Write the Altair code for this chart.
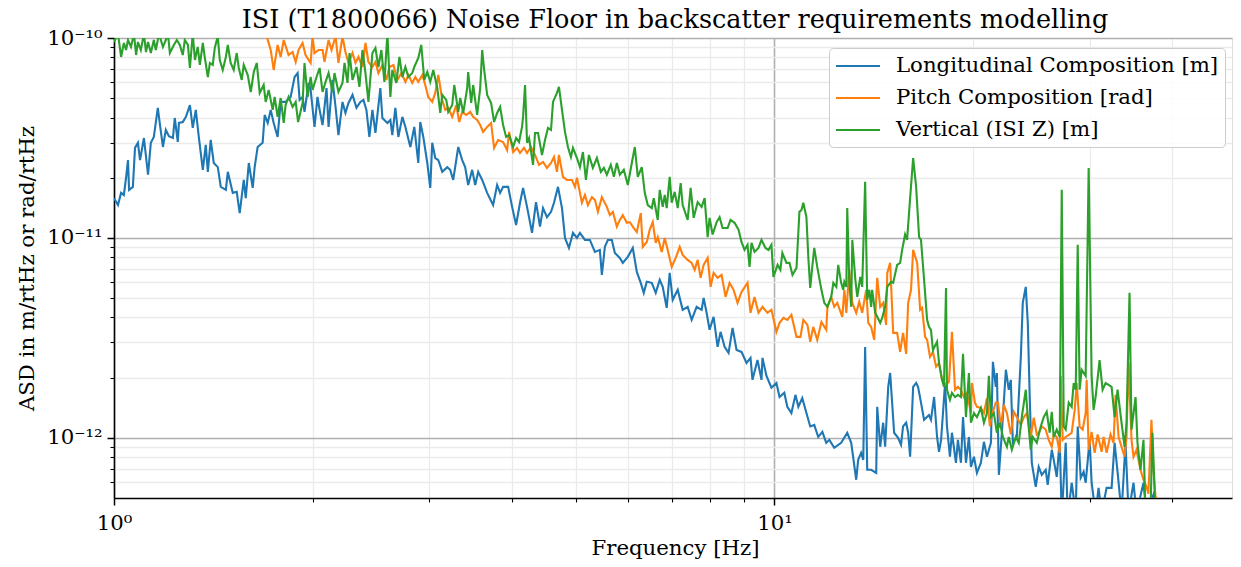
import altair as alt
import pandas as pd

FONT = "DejaVu Serif"
UNIT = 1e-12  # ASD arrays below are in units of 1e-12
LABEL_SIZE = 21.25
TITLE_SIZE = 25.5

title_text = "ISI (T1800066) Noise Floor in backscatter requirements modelling"
x_title = "Frequency [Hz]"
y_title = "ASD in m/rtHz or rad/rtHz"
series_names = ["Longitudinal Composition [m]", "Pitch Composition [rad]", "Vertical (ISI Z) [m]"]
series_colors = ["#1f77b4", "#ff7f0e", "#2ca02c"]

x_major = [1, 10]
x_major_labels = ["10⁰", "10¹"]
x_minor = [2, 3, 4, 5, 6, 7, 8, 9, 20, 30, 40]
y_major = [1e-12, 1e-11, 1e-10]
y_major_labels = ["10⁻¹²", "10⁻¹¹", "10⁻¹⁰"]
y_minor = [6e-13, 7e-13, 8e-13, 9e-13,
           2e-12, 3e-12, 4e-12, 5e-12, 6e-12, 7e-12, 8e-12, 9e-12,
           2e-11, 3e-11, 4e-11, 5e-11, 6e-11, 7e-11, 8e-11, 9e-11]
x_domain = [1, 49.3]
y_domain = [5e-13, 1e-10]

# ---- Longitudinal Composition [m]
freq_long = [
    1.000, 1.014, 1.025, 1.035, 1.043, 1.050, 1.054, 1.068, 1.076, 1.087,
    1.095, 1.110, 1.126, 1.137, 1.149, 1.165, 1.174, 1.186, 1.198, 1.211,
    1.228, 1.236, 1.249, 1.254, 1.271, 1.285, 1.303, 1.316, 1.330, 1.344,
    1.363, 1.377, 1.387, 1.401, 1.416, 1.436, 1.451, 1.477, 1.487, 1.513,
    1.534, 1.550, 1.572, 1.583, 1.600, 1.622, 1.633, 1.650, 1.679, 1.691,
    1.709, 1.727, 1.745, 1.769, 1.788, 1.819, 1.851, 1.877, 1.897, 1.910,
    1.930, 1.943, 1.971, 1.985, 2.012, 2.033, 2.048, 2.069, 2.098, 2.113,
    2.142, 2.165, 2.187, 2.218, 2.241, 2.265, 2.297, 2.329, 2.361, 2.386,
    2.411, 2.436, 2.462, 2.488, 2.531, 2.549, 2.594, 2.621, 2.639, 2.667,
    2.695, 2.733, 2.762, 2.810, 2.849, 2.889, 2.909, 2.940, 2.981, 3.012,
    3.033, 3.065, 3.098, 3.141, 3.196, 3.229, 3.263, 3.321, 3.367, 3.402,
    3.438, 3.486, 3.523, 3.560, 3.610, 3.673, 3.750, 3.803, 3.843, 3.883,
    3.952, 4.007, 4.063, 4.119, 4.163, 4.221, 4.295, 4.355, 4.416, 4.463,
    4.525, 4.589, 4.637, 4.702, 4.768, 4.818, 4.885, 4.954, 5.023, 5.076,
    5.165, 5.255, 5.348, 5.441, 5.479, 5.537, 5.595, 5.673, 5.733, 5.833,
    5.894, 5.998, 6.103, 6.189, 6.275, 6.341, 6.408, 6.520, 6.611, 6.704,
    6.774, 6.869, 6.941, 7.014, 7.138, 7.262, 7.390, 7.493, 7.625, 7.758,
    7.813, 7.894, 7.977, 8.089, 8.203, 8.288, 8.405, 8.522, 8.642, 8.763,
    8.916, 9.073, 9.200, 9.264, 9.427, 9.559, 9.592, 9.727, 9.896, 10.07,
    10.18, 10.35, 10.46, 10.61, 10.76, 10.87, 11.02, 11.18, 11.33, 11.49,
    11.65, 11.82, 11.98, 12.11, 12.32, 12.62, 12.89, 13.07, 13.30, 13.39,
    13.53, 13.63, 13.72, 13.82, 14.01, 14.26, 14.31, 14.46, 14.61, 14.71,
    14.87, 14.97, 15.18, 15.39, 15.55, 15.66, 15.83, 15.94, 16.05, 16.22,
    16.39, 16.50, 16.67, 16.85, 17.14, 17.26, 17.45, 17.63, 17.75, 17.88,
    18.13, 18.25, 18.44, 18.57, 18.83, 18.96, 19.16, 19.30, 19.50, 19.70,
    19.84, 20.05, 20.26, 20.54, 20.76, 20.98, 21.27, 21.42, 21.64, 21.72,
    21.87, 22.10, 22.41, 22.64, 22.80, 22.96, 23.28, 23.61, 23.77, 24.02,
    24.19, 24.36, 24.53, 24.87, 25.13, 25.40, 25.75, 25.93, 26.30, 26.48,
    26.76, 27.04, 27.23, 27.61, 27.80, 28.19, 28.59, 28.79, 29.09, 29.39,
    29.60, 30.01, 30.22, 30.64, 30.96, 31.29, 31.84, 32.40, 32.74, 33.08,
    33.54, 34.01, 34.37, 34.97, 35.34, 36.21, 36.59, 37.49, 38.15,
]
asd_long = [
    15.8, 14.6, 16.8, 16.4, 20.0, 24.5, 17.4, 18.0, 28.2, 29.9,
    24.5, 31.6, 20.7, 29.9, 32.0, 44.7, 36.7, 28.5, 34.7, 32.3,
    31.6, 39.8, 30.2, 37.6, 38.0, 40.3, 46.2, 35.5, 43.7, 32.0,
    21.9, 29.2, 21.4, 30.9, 23.7, 22.6, 18.0, 17.4, 21.4, 16.8,
    17.0, 13.3, 19.5, 15.8, 23.7, 17.8, 22.6, 28.5, 29.9, 41.2,
    37.6, 43.7, 37.6, 32.0, 47.9, 47.9, 50.7, 63.8, 66.8, 49.0,
    50.7, 42.7, 59.6, 55.0, 35.9, 50.7, 43.7, 36.7, 56.2, 35.9,
    61.7, 45.2, 32.7, 47.9, 42.2, 47.3, 51.9, 44.7, 47.9, 49.0,
    43.7, 32.0, 43.7, 33.5, 56.2, 39.8, 37.6, 38.9, 32.7, 44.7,
    32.0, 40.3, 35.9, 28.5, 35.9, 23.7, 38.0, 32.0, 23.7, 17.8,
    29.9, 25.1, 24.5, 21.4, 22.6, 21.9, 19.5, 28.5, 24.5, 22.6,
    18.4, 21.9, 18.4, 21.4, 19.5, 16.8, 14.6, 18.4, 16.8, 18.0,
    18.0, 14.3, 11.6, 15.0, 17.8, 14.3, 10.6, 15.1, 11.4, 14.1,
    12.7, 13.5, 15.0, 18.0, 14.1, 10.0, 8.91, 10.6, 10.0, 10.6,
    9.77, 9.77, 8.51, 8.71, 6.53, 9.02, 9.77, 9.77, 8.41, 7.94,
    7.50, 8.04, 8.91, 6.76, 5.96, 5.31, 6.03, 5.96, 5.31, 6.17,
    5.69, 4.47, 6.68, 4.90, 5.50, 4.37, 4.52, 3.89, 4.52, 4.37,
    5.01, 4.22, 3.47, 4.03, 2.85, 3.39, 2.85, 2.66, 3.55, 2.75,
    2.69, 2.37, 2.51, 1.95, 2.45, 1.95, 2.51, 2.04, 1.78, 1.88,
    1.60, 1.68, 1.43, 1.33, 1.64, 1.43, 1.58, 1.33, 1.14, 1.16,
    1.01, 1.07, 0.944, 0.977, 0.891, 0.944, 1.06, 0.944, 0.617, 0.776,
    0.841, 0.776, 2.85, 0.692, 0.692, 0.668, 1.43, 0.902, 1.19, 0.902,
    1.80, 2.11, 1.06, 1.00, 0.923, 1.14, 1.19, 1.06, 0.804, 1.80,
    1.88, 1.80, 1.50, 1.23, 1.30, 1.23, 1.60, 1.01, 0.851, 0.977,
    1.88, 1.14, 0.804, 1.06, 0.750, 0.977, 0.750, 1.27, 0.750, 1.01,
    0.716, 0.804, 0.668, 0.750, 0.955, 0.804, 0.944, 2.40, 1.80, 2.11,
    0.653, 1.06, 2.19, 1.74, 1.95, 0.944, 1.01, 2.54, 4.73, 5.69,
    3.76, 1.55, 0.750, 0.569, 0.716, 0.653, 0.692, 0.582, 0.871, 0.776,
    0.638, 0.977, 0.40, 0.944, 0.40, 0.596, 0.42, 1.14, 0.631, 0.676,
    0.596, 0.977, 0.596, 0.42, 0.562, 0.42, 0.562, 0.562, 0.944, 0.676,
    0.42, 0.944, 0.42, 0.596, 0.42, 0.596, 0.42, 0.52, 0.38,
]

# ---- Pitch Composition [rad]
freq_pitch = [
    1.685, 1.703, 1.727, 1.745, 1.769, 1.788, 1.807, 1.838, 1.864, 1.884,
    1.903, 1.930, 1.950, 1.985, 1.998, 2.012, 2.041, 2.069, 2.083, 2.113,
    2.135, 2.165, 2.187, 2.218, 2.241, 2.265, 2.297, 2.321, 2.345, 2.378,
    2.403, 2.428, 2.462, 2.488, 2.514, 2.549, 2.585, 2.612, 2.649, 2.686,
    2.723, 2.762, 2.791, 2.829, 2.859, 2.889, 2.930, 2.960, 2.991, 3.033,
    3.065, 3.098, 3.141, 3.174, 3.207, 3.252, 3.298, 3.332, 3.367, 3.414,
    3.462, 3.498, 3.547, 3.585, 3.622, 3.673, 3.724, 3.763, 3.816, 3.883,
    3.938, 3.965, 4.021, 4.077, 4.119, 4.177, 4.221, 4.280, 4.340, 4.401,
    4.463, 4.525, 4.589, 4.637, 4.685, 4.718, 4.784, 4.851, 4.936, 4.988,
    5.023, 5.111, 5.165, 5.219, 5.292, 5.348, 5.404, 5.479, 5.575, 5.634,
    5.693, 5.773, 5.833, 5.894, 5.977, 6.040, 6.124, 6.189, 6.275, 6.319,
    6.408, 6.475, 6.543, 6.611, 6.658, 6.751, 6.822, 6.893, 6.990, 7.088,
    7.188, 7.262, 7.390, 7.493, 7.572, 7.652, 7.731, 7.813, 7.923, 8.005,
    8.089, 8.203, 8.317, 8.434, 8.552, 8.672, 8.794, 8.916, 9.105, 9.200,
    9.329, 9.459, 9.592, 9.761, 9.896, 10.07, 10.18, 10.32, 10.46, 10.61,
    10.80, 10.95, 11.06, 11.22, 11.33, 11.45, 11.61, 11.78, 11.98, 12.03,
    12.19, 12.32, 12.45, 12.67, 12.76, 12.85, 12.98, 13.12, 13.30, 13.44,
    13.58, 13.77, 13.87, 14.01, 14.16, 14.31, 14.46, 14.61, 14.76, 14.82,
    14.97, 15.13, 15.34, 15.50, 15.66, 15.83, 15.94, 16.10, 16.22, 16.45,
    16.62, 16.73, 16.91, 17.03, 17.20, 17.38, 17.57, 17.75, 17.94, 18.19,
    18.38, 18.57, 18.77, 18.96, 19.16, 19.36, 19.57, 19.84, 19.91, 20.12,
    20.26, 20.54, 20.76, 20.98, 21.20, 21.34, 21.64, 21.80, 22.02, 22.25,
    22.49, 22.80, 23.04, 23.28, 23.61, 23.86, 24.11, 24.44, 24.70, 24.96,
    25.13, 25.40, 25.75, 26.02, 26.30, 26.48, 26.76, 27.04, 27.13, 27.32,
    27.61, 27.99, 28.19, 28.49, 28.69, 28.98, 29.29, 29.60, 29.70, 29.91,
    30.22, 30.54, 30.86, 31.29, 31.51, 31.84, 32.28, 32.62, 32.85, 33.20,
    33.54, 33.90, 34.13, 34.37, 34.73, 34.97, 35.34, 35.83, 36.21, 36.59,
    36.84, 37.23, 37.49, 37.75, 38.28,
]
asd_pitch = [
    110, 102, 87.1, 69.2, 92.3, 80.4, 97.7, 82.2, 85.1, 75.9,
    87.1, 94.4, 82.2, 75.0, 102, 84.1, 87.1, 87.1, 75.9, 97.7,
    87.1, 102, 75.0, 102, 85.1, 75.0, 84.1, 75.0, 80.4, 71.6,
    94.4, 75.9, 71.6, 75.9, 66.8, 73.3, 61.7, 71.6, 73.3, 61.7,
    66.8, 60.3, 65.3, 59.6, 63.8, 60.3, 65.3, 58.2, 50.7, 47.9,
    53.1, 65.3, 49.0, 43.7, 44.7, 40.3, 46.2, 38.0, 42.7, 41.2,
    42.7, 40.3, 38.9, 36.7, 33.9, 35.9, 37.6, 28.2, 30.9, 30.2,
    27.5, 33.9, 26.9, 28.2, 26.6, 28.2, 26.6, 28.5, 26.0, 23.2,
    24.0, 22.4, 23.7, 25.4, 21.4, 26.0, 20.2, 19.5, 19.5, 18.0,
    20.0, 15.0, 16.4, 14.6, 16.0, 15.5, 13.5, 16.0, 14.3, 13.0,
    13.5, 11.4, 12.3, 13.0, 11.9, 12.0, 11.2, 10.7, 13.3, 9.02,
    9.55, 11.0, 12.0, 9.44, 10.1, 8.51, 10.0, 8.71, 7.16, 7.94,
    9.02, 8.22, 7.76, 7.50, 6.92, 7.76, 6.31, 7.33, 7.94, 5.69,
    6.68, 6.31, 6.53, 5.07, 5.96, 5.50, 4.73, 5.37, 5.96, 4.22,
    5.07, 4.22, 4.52, 4.22, 4.37, 3.39, 3.76, 3.98, 3.89, 4.12,
    3.20, 3.20, 3.89, 3.67, 3.02, 3.59, 3.09, 3.80, 3.47, 4.52,
    5.07, 4.52, 4.73, 4.03, 5.50, 4.22, 6.92, 4.73, 4.22, 4.79,
    4.22, 5.50, 3.76, 3.59, 3.09, 6.31, 4.52, 4.73, 3.67, 6.68,
    7.50, 3.35, 3.35, 2.69, 3.35, 2.63, 4.73, 5.50, 8.71, 7.50,
    4.37, 4.47, 3.20, 3.09, 2.54, 2.69, 2.27, 2.37, 1.95, 1.84,
    1.91, 3.39, 1.74, 1.80, 1.74, 1.60, 1.68, 1.33, 1.88, 1.50,
    1.43, 1.41, 1.33, 1.58, 1.14, 1.30, 1.50, 1.50, 1.14, 1.46,
    1.33, 1.04, 1.35, 1.27, 1.16, 1.27, 1.33, 1.01, 1.26, 1.04,
    1.06, 1.14, 1.10, 0.977, 0.902, 1.04, 1.01, 0.841, 2.04, 0.977,
    1.01, 1.04, 1.06, 1.38, 1.88, 1.14, 1.10, 1.33, 1.95, 0.871,
    1.07, 0.841, 1.04, 0.851, 1.01, 0.841, 1.04, 0.944, 1.64, 1.01,
    0.902, 0.804, 1.01, 2.37, 0.977, 0.804, 0.871, 0.692, 0.617, 0.569,
    0.525, 1.23, 0.692, 0.510, 0.40,
]

# ---- Vertical (ISI Z) [m]
freq_vert = [
    1.000, 1.014, 1.025, 1.035, 1.043, 1.050, 1.061, 1.072, 1.080, 1.087,
    1.098, 1.110, 1.118, 1.126, 1.137, 1.149, 1.157, 1.170, 1.186, 1.198,
    1.207, 1.215, 1.232, 1.245, 1.258, 1.271, 1.280, 1.294, 1.303, 1.316,
    1.326, 1.339, 1.349, 1.363, 1.372, 1.387, 1.397, 1.411, 1.421, 1.436,
    1.446, 1.461, 1.477, 1.487, 1.502, 1.518, 1.534, 1.545, 1.561, 1.572,
    1.594, 1.611, 1.628, 1.645, 1.662, 1.685, 1.697, 1.715, 1.739, 1.751,
    1.769, 1.788, 1.807, 1.819, 1.838, 1.864, 1.884, 1.900, 1.930, 1.943,
    1.964, 1.985, 1.998, 2.026, 2.048, 2.069, 2.091, 2.113, 2.142, 2.157,
    2.187, 2.218, 2.234, 2.257, 2.273, 2.297, 2.329, 2.353, 2.378, 2.403,
    2.428, 2.462, 2.488, 2.514, 2.540, 2.567, 2.594, 2.621, 2.639, 2.676,
    2.705, 2.733, 2.762, 2.791, 2.829, 2.849, 2.889, 2.919, 2.950, 2.981,
    3.012, 3.044, 3.087, 3.119, 3.141, 3.185, 3.207, 3.252, 3.275, 3.321,
    3.344, 3.379, 3.426, 3.438, 3.474, 3.498, 3.547, 3.585, 3.610, 3.635,
    3.673, 3.724, 3.763, 3.803, 3.843, 3.883, 3.924, 3.965, 4.021, 4.063,
    4.105, 4.148, 4.163, 4.192, 4.221, 4.251, 4.310, 4.340, 4.386, 4.447,
    4.494, 4.541, 4.589, 4.621, 4.685, 4.718, 4.768, 4.818, 4.868, 4.919,
    4.954, 5.023, 5.076, 5.129, 5.183, 5.237, 5.310, 5.385, 5.460, 5.518,
    5.575, 5.653, 5.713, 5.773, 5.833, 5.915, 5.998, 6.082, 6.146, 6.210,
    6.297, 6.363, 6.430, 6.520, 6.566, 6.658, 6.704, 6.774, 6.822, 6.869,
    6.941, 6.990, 7.063, 7.138, 7.212, 7.262, 7.390, 7.467, 7.546, 7.652,
    7.758, 7.840, 7.923, 7.977, 8.061, 8.175, 8.260, 8.346, 8.494, 8.581,
    8.702, 8.824, 8.916, 9.010, 9.105, 9.168, 9.232, 9.329, 9.459, 9.559,
    9.693, 9.795, 9.896, 9.965, 10.11, 10.21, 10.28, 10.43, 10.54, 10.65,
    10.80, 10.91, 10.99, 11.06, 11.18, 11.26, 11.33, 11.41, 11.49, 11.61,
    11.78, 11.90, 12.03, 12.19, 12.28, 12.41, 12.49, 12.62, 12.71, 12.76,
    12.85, 12.89, 12.98, 13.07, 13.12, 13.26, 13.35, 13.49, 13.58, 13.72,
    13.82, 13.92, 14.01, 14.06, 14.21, 14.31, 14.46, 14.56, 14.71, 14.82,
    15.02, 15.13, 15.34, 15.50, 15.61, 15.77, 15.88, 16.05, 16.22, 16.39,
    16.56, 16.67, 16.85, 17.03, 17.14, 17.26, 17.38, 17.63, 17.75, 17.94,
    18.06, 18.19, 18.25, 18.44, 18.57, 18.77, 18.96, 19.16, 19.30, 19.50,
    19.70, 19.84, 20.05, 20.26, 20.54, 20.76, 20.98, 21.12, 21.27, 21.49,
    21.72, 21.95, 22.18, 22.49, 22.64, 22.88, 23.20, 23.44, 23.69, 24.02,
    24.19, 24.44, 24.61, 24.96, 25.31, 25.57, 25.84, 26.11, 26.30, 26.48,
    26.76, 27.04, 27.23, 27.42, 27.61, 27.90, 28.19, 28.39, 28.59, 28.79,
    28.98, 29.19, 29.60, 29.91, 30.22, 30.43, 30.64, 31.07, 31.40, 31.73,
    32.06, 32.40, 32.74, 33.08, 33.54, 33.90, 34.13, 34.49, 34.73, 35.22,
    35.46, 35.83, 36.21, 36.46, 37.10, 37.36, 37.75, 38.15,
]
asd_vert = [
    95.5, 105, 80.4, 94.4, 87.1, 97.7, 90.2, 105, 82.2, 95.5,
    87.1, 105, 85.1, 95.5, 84.1, 97.7, 87.1, 105, 90.2, 97.7,
    105, 84.1, 92.3, 97.7, 92.3, 82.2, 97.7, 92.3, 70.8, 105,
    77.6, 90.2, 73.3, 94.4, 80.4, 63.8, 75.0, 73.3, 89.1, 102,
    77.6, 69.2, 80.4, 92.3, 75.0, 69.2, 84.1, 70.8, 61.7, 73.3,
    65.3, 53.7, 67.6, 75.0, 53.1, 58.2, 47.9, 55.0, 43.7, 50.7,
    40.3, 50.1, 37.6, 46.2, 50.7, 45.2, 47.9, 38.0, 47.3, 75.0,
    50.7, 63.8, 55.0, 63.8, 70.8, 53.7, 60.3, 66.8, 53.7, 66.8,
    53.7, 59.6, 75.0, 59.6, 84.1, 61.7, 71.6, 56.9, 87.1, 66.8,
    47.9, 84.1, 89.1, 71.6, 87.1, 60.3, 105, 50.7, 69.2, 59.6,
    80.4, 63.8, 71.6, 63.8, 66.8, 71.6, 79.4, 92.3, 61.7, 67.6,
    60.3, 69.2, 56.2, 42.2, 51.9, 49.0, 42.7, 46.2, 58.2, 42.7,
    50.1, 42.2, 56.2, 67.6, 47.3, 58.2, 41.2, 56.2, 87.1, 69.2,
    51.9, 47.3, 38.0, 42.2, 45.2, 36.7, 32.0, 32.7, 28.5, 31.6,
    30.2, 35.9, 40.3, 58.2, 29.9, 31.6, 23.2, 33.5, 33.5, 26.0,
    30.9, 35.5, 34.7, 47.9, 53.1, 56.9, 43.7, 33.9, 28.5, 25.4,
    28.2, 25.1, 22.6, 26.9, 19.5, 26.0, 22.4, 25.1, 21.4, 22.4,
    20.7, 23.2, 20.2, 23.7, 20.7, 21.9, 18.4, 23.7, 28.5, 20.2,
    22.6, 16.8, 14.6, 14.1, 15.8, 12.3, 17.4, 14.3, 16.4, 14.1,
    20.2, 15.0, 17.0, 14.1, 18.8, 14.6, 12.3, 17.8, 12.6, 15.1,
    14.3, 15.8, 10.1, 12.6, 10.4, 12.0, 12.7, 11.2, 11.2, 12.3,
    11.9, 11.0, 9.55, 8.71, 9.23, 7.16, 9.44, 8.51, 8.91, 9.77,
    8.91, 8.71, 9.23, 6.38, 7.33, 6.92, 8.41, 7.50, 7.50, 6.53,
    7.08, 13.5, 13.8, 15.0, 12.7, 7.76, 5.62, 7.16, 8.91, 7.16,
    5.50, 4.73, 4.52, 5.07, 5.96, 5.69, 7.33, 5.96, 5.50, 6.03,
    5.69, 14.1, 6.17, 4.52, 9.77, 6.17, 5.07, 6.38, 5.69, 19.1,
    4.90, 5.50, 4.52, 5.50, 4.22, 4.03, 3.76, 3.98, 4.52, 5.69,
    6.03, 5.96, 7.33, 7.50, 8.71, 10.4, 9.77, 15.8, 25.1, 18.0,
    10.1, 9.77, 6.17, 3.89, 3.59, 3.47, 2.75, 3.02, 2.37, 1.95,
    1.80, 5.62, 1.74, 1.55, 1.68, 1.60, 1.64, 1.60, 2.63, 1.27,
    2.11, 1.19, 1.33, 1.27, 1.41, 1.19, 1.33, 2.04, 1.27, 1.33,
    1.06, 1.19, 1.01, 0.902, 1.01, 0.871, 1.01, 0.944, 1.27, 1.74,
    1.27, 0.871, 1.01, 0.944, 1.14, 1.27, 1.35, 1.06, 1.35, 1.01,
    1.10, 1.01, 17.4, 1.14, 1.10, 1.50, 1.43, 1.88, 1.74, 9.23,
    1.74, 2.19, 2.04, 22.4, 2.04, 1.38, 1.60, 2.45, 1.74, 1.88,
    1.84, 1.80, 1.27, 1.74, 1.19, 0.902, 1.19, 5.31, 1.10, 1.60,
    0.944, 0.692, 0.977, 0.42, 0.42, 1.06, 0.42, 0.38,
]


def make_frame(freqs, vals, name):
    return pd.DataFrame({"freq": freqs, "asd": [v * UNIT for v in vals], "series": name})


def label_expr(values, labels):
    parts = [f"datum.value == {v!r} ? '{t}'" for v, t in zip(values, labels)]
    return " : ".join(parts) + " : ''"


def major_test(values):
    return " || ".join(f"datum.value == {v!r}" for v in values)


x_test = major_test(x_major)
y_test = major_test(y_major)

MAJOR_GRID = "#b0b0b0"
MINOR_GRID = "#ebebeb"

PLOT_W = 1118
PLOT_H = 460

x_axis = alt.Axis(
    values=x_major + x_minor,
    labelExpr=label_expr(x_major, x_major_labels),
    title=x_title,
    grid=True,
    gridColor={"condition": {"test": x_test, "value": MAJOR_GRID}, "value": MINOR_GRID},
    gridWidth={"condition": {"test": x_test, "value": 1.6}, "value": 1.3},
    tickSize={"condition": {"test": x_test, "value": 7}, "value": 4},
    tickWidth={"condition": {"test": x_test, "value": 1.5}, "value": 1.1},
    tickColor="black",
    domainColor="black",
    domainWidth=1.5,
    labelFlush=False,
    labelOverlap=False,
    labelFont=FONT,
    labelFontSize=LABEL_SIZE,
    labelColor="black",
    labelPadding=7,
    titleFont=FONT,
    titleFontSize=LABEL_SIZE,
    titleFontWeight="normal",
    titleColor="black",
    titleX=561,
    titleY=56,
    titleAlign="center",
    titleBaseline="alphabetic",
)

y_axis = alt.Axis(
    values=y_major + y_minor,
    labelExpr=label_expr(y_major, y_major_labels),
    title=y_title,
    grid=True,
    gridColor={"condition": {"test": y_test, "value": MAJOR_GRID}, "value": MINOR_GRID},
    gridWidth={"condition": {"test": y_test, "value": 1.6}, "value": 1.3},
    tickSize={"condition": {"test": y_test, "value": 7}, "value": 4},
    tickWidth={"condition": {"test": y_test, "value": 1.5}, "value": 1.1},
    tickColor="black",
    domainColor="black",
    domainWidth=1.5,
    labelFlush=False,
    labelOverlap=False,
    labelFont=FONT,
    labelFontSize=LABEL_SIZE,
    labelColor="black",
    labelPadding=5,
    titleFont=FONT,
    titleFontSize=LABEL_SIZE,
    titleFontWeight="normal",
    titleColor="black",
    titleX=-87,
    titleY=230,
    titleAngle=270,
    titleAlign="center",
    titleBaseline="middle",
)

x_enc = alt.X("freq:Q", scale=alt.Scale(type="log", domain=x_domain, nice=False), axis=x_axis)
y_enc = alt.Y("asd:Q", scale=alt.Scale(type="log", domain=y_domain, nice=False), axis=y_axis)
color_enc = alt.Color(
    "series:N",
    scale=alt.Scale(domain=series_names, range=series_colors),
    legend=alt.Legend(
        title=None,
        orient="none",
        legendX=715,
        legendY=10,
        symbolType="M-1,0H3",
        symbolSize=484,
        symbolStrokeWidth=2,
        labelFont=FONT,
        labelFontSize=LABEL_SIZE,
        labelColor="black",
        labelLimit=0,
        labelOffset=37,
        padding=6,
        rowPadding=9,
        strokeColor="#cccccc",
        fillColor="rgba(255,255,255,0.85)",
        cornerRadius=4,
    ),
)

frames = [
    make_frame(freq_long, asd_long, series_names[0]),
    make_frame(freq_pitch, asd_pitch, series_names[1]),
    make_frame(freq_vert, asd_vert, series_names[2]),
]

layers = [
    alt.Chart(df).mark_line(clip=True, strokeWidth=2.1).encode(x=x_enc, y=y_enc, color=color_enc)
    for df in frames
]

chart = (
    alt.layer(*layers)
    .properties(
        width=PLOT_W,
        height=PLOT_H,
        autosize=alt.AutoSizeParams(type="none"),
        padding={"left": 106, "top": 30, "right": 1, "bottom": 61},
        title=alt.TitleParams(
            text=title_text,
            font=FONT,
            fontSize=TITLE_SIZE,
            fontWeight="normal",
            color="black",
            anchor="middle",
            frame="group",
            offset=8,
            dy=14,
            dx=2,
        ),
    )
    .configure_view(stroke="black", strokeWidth=1.5)
    .configure(background="white")
)

chart.save("out.html", embed_options={"renderer": "svg", "actions": False})
